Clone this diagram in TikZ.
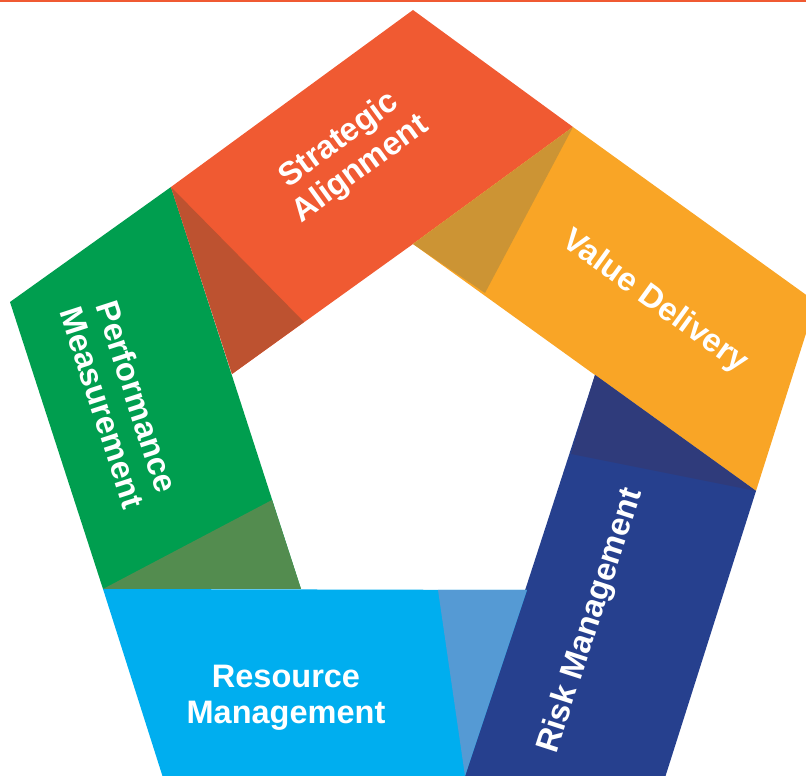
\documentclass[tikz,border=0pt]{standalone}
\usepackage{fontspec}
\setmainfont{Liberation Sans}
\usepackage{xcolor}
\definecolor{stratorange}{HTML}{F05A32}
\definecolor{stratfold}  {HTML}{BD5230}
\definecolor{valueyellow}{HTML}{F9A526}
\definecolor{valuefold}  {HTML}{CC9434}
\definecolor{risknavy}   {HTML}{26408E}
\definecolor{riskfold}   {HTML}{2F3B7B}
\definecolor{resblue}    {HTML}{00AEEF}
\definecolor{resfold}    {HTML}{559AD4}
\definecolor{perfgreen}  {HTML}{009E4F}
\definecolor{perffold}   {HTML}{538C4F}
\tikzset{
  % band caption
  bandlabel/.style={
    text=white, align=center,
    font=\fontsize{18.5pt}{20.5pt}\selectfont\bfseries
  },
}

\begin{document}
\begin{tikzpicture}[x=0.02cm, y=-0.02cm]
  \useasboundingbox (0,0) rectangle (806,776);
  \clip (0,0) rectangle (806,776);
  % top rule
  \fill[stratorange] (0,0) rectangle (806,2);
  % bands
  \fill[perfgreen]   (10,302) -- (171,187) -- (301,589) -- (103,589) -- cycle;
  \fill[stratorange] (171,187) -- (413,10) -- (573,127) -- (413,244) -- (232,374) -- cycle;
  \fill[valueyellow] (573,127) -- (816,302) -- (756,491) -- (595,375) -- (413,244) -- cycle;
  \fill[risknavy]    (595,375) -- (756,491) -- (656,806) -- (455,806) -- cycle;
  \fill[resblue]     (103,589) -- (527,590) -- (455,806) -- (172,806) -- cycle;
  % folds
  \fill[perffold]  (103,589) -- (272,500) -- (301,589) -- cycle;
  \fill[stratfold] (171,187) -- (304,322) -- (232,374) -- cycle;
  \fill[valuefold] (573,127) -- (485,293) -- (413,244) -- cycle;
  \fill[riskfold]  (595,375) -- (571,454) -- (756,491) -- cycle;
  \fill[resfold]   (438,590) -- (527,590) -- (465,776) -- cycle;
  % captions
  \node[bandlabel, rotate=36]  (strat) at (350,155) {Strategic\\Alignment};
  \node[bandlabel, rotate=-36] (value) at (655,302) {Value Delivery};
  \node[bandlabel, rotate=72]  (risk)  at (591,621) {Risk Management};
  \node[bandlabel]             (res)   at (286,698) {Resource\\Management};
  \node[bandlabel, rotate=-72] (perf)  at (120,402) {Performance\\Measurement};
\end{tikzpicture}
\end{document}
